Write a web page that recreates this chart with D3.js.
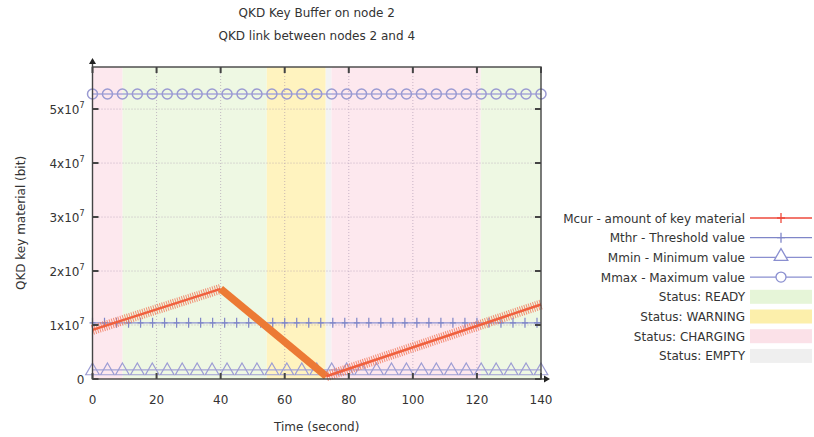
<!DOCTYPE html>
<html>
<head>
<meta charset="utf-8">
<script src="https://cdn.jsdelivr.net/npm/d3@7"></script>
<style>
  body { margin: 0; background: #fff; }
  text { font-family: "DejaVu Sans", sans-serif; fill: #333; }
</style>
</head>
<body>
<svg id="chart" width="814" height="437"></svg>
<script>
// ---------- data ----------
var titleLines = ["QKD Key Buffer on node 2", "QKD link between nodes 2 and 4"]
var xTicks = [0, 20, 40, 60, 80, 100, 120, 140]
var yTicks = [0, 1e7, 2e7, 3e7, 4e7, 5e7]

// Mcur breakpoints [time, bits]
var mcurTime = [0, 40, 73, 140]
var mcurBits = [0.91e7, 1.67e7, 0.05e7, 1.38e7]

var mthrValue = 1.04e7
var mminValue = 0.17e7
var mmaxValue = 5.28e7
var mthrStep = 3.75   // marker spacing (s)
var mlimStep = 140 / 30

// status intervals
var statusStart = [0, 9.4, 54.4, 72.8, 74.6, 121.2]
var statusEnd   = [9.4, 54.4, 72.8, 74.6, 121.2, 140]
var statusName  = ["CHARGING", "READY", "WARNING", "EMPTY", "CHARGING", "READY"]

var legendLabels = ["Mcur - amount of key material", "Mthr - Threshold value",
  "Mmin - Minimum value", "Mmax - Maximum value",
  "Status: READY", "Status: WARNING", "Status: CHARGING", "Status: EMPTY"]

var statusColor = { READY: "#eef8e3", WARNING: "#fff3bf", CHARGING: "#fde8ee", EMPTY: "#f3f3f3" }
var swatchColor = { READY: "#e6f5d8", WARNING: "#fcefab", CHARGING: "#fbe1e8", EMPTY: "#efefef" }

// ---------- layout ----------
var svg = d3.select("#chart")
var plot = { left: 92.5, right: 541, top: 67, bottom: 379 }

var x = d3.scaleLinear().domain([0, 140]).range([plot.left, plot.right])
var y = d3.scaleLinear().domain([0, 5.78e7]).range([plot.bottom, plot.top])

// status bands
svg.append("g").selectAll("rect")
  .data(statusName)
  .join("rect")
    .attr("x", (d, i) => x(statusStart[i]))
    .attr("width", (d, i) => x(statusEnd[i]) - x(statusStart[i]))
    .attr("y", plot.top)
    .attr("height", plot.bottom - plot.top)
    .attr("fill", d => statusColor[d])

// grid
var grid = svg.append("g").attr("stroke", "#a08aa8").attr("stroke-dasharray", "1 2").attr("stroke-width", 0.8).attr("opacity", 0.7)
grid.selectAll(".gx").data(xTicks.slice(1, -1)).join("line")
  .attr("x1", d => x(d)).attr("x2", d => x(d)).attr("y1", plot.top).attr("y2", plot.bottom)
grid.selectAll(".gy").data(yTicks.slice(1)).join("line")
  .attr("y1", d => y(d)).attr("y2", d => y(d)).attr("x1", plot.left).attr("x2", plot.right)

// ---------- series ----------
function hline(val, color) {
  svg.append("line")
    .attr("x1", plot.left).attr("x2", plot.right).attr("y1", y(val)).attr("y2", y(val))
    .attr("stroke", color).attr("stroke-width", 1.3)
}

// Mmin
hline(mminValue, "#a4a4d6")
var tri = d3.symbol().type(d3.symbolTriangle).size(80)
svg.append("g").selectAll("path")
  .data(d3.range(0, 140.5, mlimStep))
  .join("path")
    .attr("d", tri)
    .attr("transform", d => "translate(" + x(d) + "," + (y(mminValue) + 1) + ")")
    .attr("fill", "none").attr("stroke", "#9d9dd4").attr("stroke-width", 1.2)

// Mmax
hline(mmaxValue, "#a8a8d8")
svg.append("g").selectAll("circle")
  .data(d3.range(0, 140.5, mlimStep))
  .join("circle")
    .attr("cx", d => x(d)).attr("cy", y(mmaxValue)).attr("r", 5)
    .attr("fill", "none").attr("stroke", "#9a9ad2").attr("stroke-width", 1.5)

// Mthr
hline(mthrValue, "#8a8fd0")
svg.append("g").selectAll("path")
  .data(d3.range(0, 140.5, mthrStep))
  .join("path")
    .attr("d", d => "M" + (x(d) - 3) + "," + y(mthrValue) + "h6M" + x(d) + "," + (y(mthrValue) - 5) + "v10")
    .attr("stroke", "#7f86c8").attr("stroke-width", 1.2)

// Mcur
var mcur = mcurTime.map((t, i) => [t, mcurBits[i]])
var segs = d3.pairs(mcur)
var segLayer = svg.append("g")
segs.forEach(function (s) {
  var falling = s[1][1] < s[0][1]
  var p = [[x(s[0][0]), y(s[0][1])], [x(s[1][0]), y(s[1][1])]]
  if (falling) {
    segLayer.append("line")
      .attr("x1", p[0][0]).attr("y1", p[0][1]).attr("x2", p[1][0]).attr("y2", p[1][1])
      .attr("stroke", "#ec7a35").attr("stroke-width", 7.5)
  } else {
    // dense "+" markers look like a fuzzy band
    segLayer.append("line")
      .attr("x1", p[0][0]).attr("y1", p[0][1]).attr("x2", p[1][0]).attr("y2", p[1][1])
      .attr("stroke", "#f27658").attr("stroke-width", 10).attr("stroke-dasharray", "1 1.3").attr("opacity", 0.8)
    segLayer.append("line")
      .attr("x1", p[0][0]).attr("y1", p[0][1]).attr("x2", p[1][0]).attr("y2", p[1][1])
      .attr("stroke", "#f0603e").attr("stroke-width", 2.5)
  }
})

// ---------- frame, ticks, arrows ----------
var frame = svg.append("g").attr("stroke", "#444").attr("fill", "none")
frame.append("rect")
  .attr("x", plot.left).attr("y", plot.top)
  .attr("width", plot.right - plot.left).attr("height", plot.bottom - plot.top)
  .attr("stroke-width", 1.4)
frame.selectAll(".tx").data(xTicks).join("path")
  .attr("d", d => "M" + x(d) + "," + plot.bottom + "v-6M" + x(d) + "," + plot.top + "v6")
  .attr("stroke-width", 2)
frame.selectAll(".ty").data(yTicks).join("path")
  .attr("d", d => "M" + plot.left + "," + y(d) + "h6M" + plot.right + "," + y(d) + "h-6")
  .attr("stroke-width", 2)
// arrows
frame.append("line").attr("x1", plot.left).attr("x2", plot.left).attr("y1", plot.top).attr("y2", plot.top - 6).attr("stroke-width", 1.4)
svg.append("path").attr("d", "M" + plot.left + "," + (plot.top - 9) + "l-3.5,6h7z").attr("fill", "#222")
frame.append("line").attr("x1", plot.right).attr("x2", plot.right + 6).attr("y1", plot.bottom).attr("y2", plot.bottom).attr("stroke-width", 1.4)
svg.append("path").attr("d", "M" + (plot.right + 9) + "," + plot.bottom + "l-6,-3.5v7z").attr("fill", "#222")

// tick labels
svg.append("g").selectAll("text").data(xTicks).join("text")
  .attr("x", d => x(d)).attr("y", plot.bottom + 25)
  .attr("text-anchor", "middle").attr("font-size", 12)
  .text(d => d)

var yl = svg.append("g").selectAll("text").data(yTicks).join("text")
  .attr("x", plot.left - 8).attr("y", d => y(d) + 5)
  .attr("text-anchor", "end").attr("font-size", 12)
yl.each(function (d) {
  var t = d3.select(this)
  if (d === 0) { t.text("0"); return }
  var m = Math.round(d / 1e7)
  t.append("tspan").text(m + "x10")
  t.append("tspan").attr("dy", -6).attr("font-size", 8).text("7")
})

// titles
svg.append("g").selectAll("text").data(titleLines).join("text")
  .attr("x", (plot.left + plot.right) / 2).attr("y", (d, i) => 17 + i * 23)
  .attr("text-anchor", "middle").attr("font-size", 12)
  .text(d => d)

svg.append("text")
  .attr("transform", "translate(25," + ((plot.top + plot.bottom) / 2) + ") rotate(-90)")
  .attr("text-anchor", "middle").attr("font-size", 12)
  .text("QKD key material (bit)")

svg.append("text")
  .attr("x", (plot.left + plot.right) / 2).attr("y", 431)
  .attr("text-anchor", "middle").attr("font-size", 12)
  .text("Time (second)")

// ---------- legend ----------
var legend = svg.append("g")
var lx = 745, ly = 218, lstep = 19.7
legendLabels.forEach(function (label, i) {
  var cy = ly + i * lstep
  legend.append("text").attr("x", lx).attr("y", cy + 4.5)
    .attr("text-anchor", "end").attr("font-size", 12).text(label)
  var sx0 = lx + 5, sx1 = 812, mid = (sx0 + sx1) / 2
  if (i < 4) {
    var col = ["#ee4a3c", "#7f86c8", "#8a8fd0", "#8a8fd0"][i]
    legend.append("line").attr("x1", sx0).attr("x2", sx1).attr("y1", cy).attr("y2", cy)
      .attr("stroke", col).attr("stroke-width", 1.3)
    if (i < 2) {
      legend.append("path").attr("d", "M" + (mid - 4) + "," + cy + "h8M" + mid + "," + (cy - 5) + "v10")
        .attr("stroke", col).attr("stroke-width", 1.3)
    } else if (i === 2) {
      legend.append("path").attr("d", tri).attr("transform", "translate(" + mid + "," + (cy - 1) + ")")
        .attr("fill", "#fff").attr("stroke", col).attr("stroke-width", 1.3)
    } else {
      legend.append("circle").attr("cx", mid).attr("cy", cy).attr("r", 5)
        .attr("fill", "#fff").attr("stroke", col).attr("stroke-width", 1.3)
    }
  } else {
    var key = label.replace("Status: ", "")
    legend.append("rect").attr("x", sx0).attr("y", cy - 7).attr("width", sx1 - sx0).attr("height", 14)
      .attr("fill", swatchColor[key])
  }
})
</script>
</body>
</html>
